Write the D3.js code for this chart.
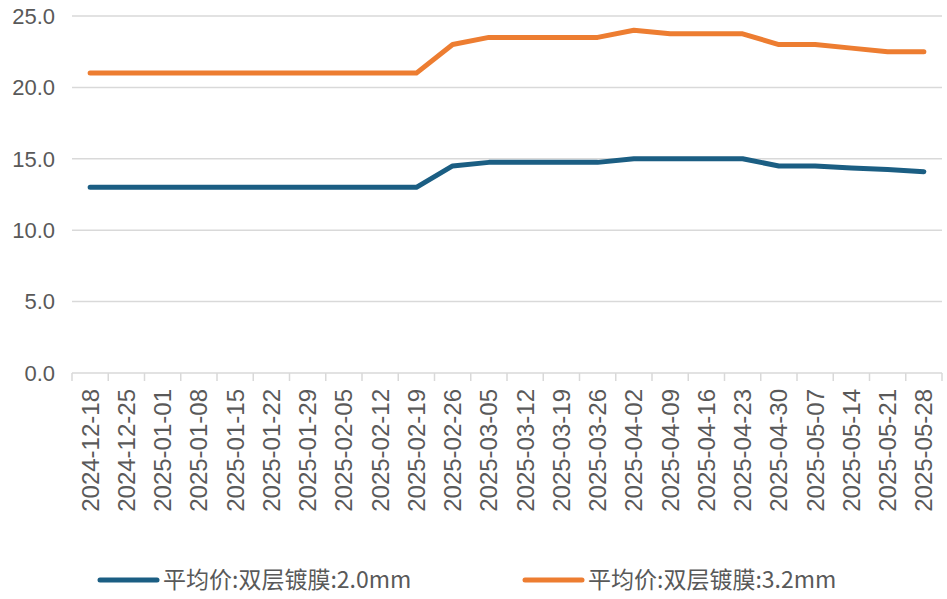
<!DOCTYPE html>
<html lang="zh">
<head>
<meta charset="utf-8">
<title>平均价</title>
<script src="https://cdn.jsdelivr.net/npm/d3@7"></script>
<style>
  body { margin: 0; background: #fff; }
  svg text { font-family: "Liberation Sans", Arial, sans-serif; fill: #595959; }
  .legend text { font-family: "Noto Sans CJK SC", "Liberation Sans", sans-serif; }
</style>
</head>
<body>
<div id="chart"></div>
<script>
// data
var dates = ["2024-12-18","2024-12-25","2025-01-01","2025-01-08","2025-01-15","2025-01-22",
  "2025-01-29","2025-02-05","2025-02-12","2025-02-19","2025-02-26","2025-03-05","2025-03-12",
  "2025-03-19","2025-03-26","2025-04-02","2025-04-09","2025-04-16","2025-04-23","2025-04-30",
  "2025-05-07","2025-05-14","2025-05-21","2025-05-28"];
var price20 = [13,13,13,13,13,13,13,13,13,13,14.5,14.75,14.75,14.75,14.75,15,15,15,15,14.5,14.5,14.35,14.25,14.1];
var price32 = [21,21,21,21,21,21,21,21,21,21,23,23.5,23.5,23.5,23.5,24,23.75,23.75,23.75,23,23,22.75,22.5,22.5];
var yTicks = [0,5,10,15,20,25];
var seriesNames = ["平均价:双层镀膜:2.0mm","平均价:双层镀膜:3.2mm"];
var colors = ["#1b5e83","#ed7d31"];

var W = 947, H = 599;
var svg = d3.select("#chart").append("svg").attr("width", W).attr("height", H);

var pLeft = 72, pRight = 942, pTop = 16, pBottom = 373;

var x = d3.scaleBand().domain(dates).range([pLeft, pRight]);
var y = d3.scaleLinear().domain([0, 25]).range([pBottom, pTop]);

// grid
svg.append("g").selectAll("line").data(yTicks.filter(function(d){ return d > 0; }))
  .enter().append("line")
  .attr("x1", pLeft).attr("x2", pRight)
  .attr("y1", function(d){ return y(d); }).attr("y2", function(d){ return y(d); })
  .attr("stroke", "#d9d9d9").attr("stroke-width", 1.5);

// y labels
svg.append("g").selectAll("text").data(yTicks).enter().append("text")
  .attr("x", 55).attr("y", function(d){ return y(d); })
  .attr("dy", "0.35em").attr("text-anchor", "end")
  .style("font-size", "22px")
  .text(function(d){ return d.toFixed(1); });

// x axis
var xAxis = svg.append("g");
xAxis.append("line").attr("x1", pLeft).attr("x2", pRight)
  .attr("y1", pBottom).attr("y2", pBottom)
  .attr("stroke", "#d9d9d9").attr("stroke-width", 1.5);
var bounds = dates.map(function(d){ return x(d); }).concat([pRight]);
xAxis.selectAll("line.tick").data(bounds).enter().append("line")
  .attr("class", "tick")
  .attr("x1", function(d){ return d; }).attr("x2", function(d){ return d; })
  .attr("y1", pBottom).attr("y2", pBottom + 8)
  .attr("stroke", "#d9d9d9").attr("stroke-width", 1.5);
xAxis.selectAll("text").data(dates).enter().append("text")
  .attr("transform", function(d){
    return "translate(" + (x(d) + x.bandwidth() / 2) + "," + (pBottom + 16) + ") rotate(-90)";
  })
  .attr("text-anchor", "end").attr("dy", "0.35em")
  .style("font-size", "24px")
  .text(function(d){ return d; });

// lines
var line = d3.line()
  .x(function(d, i){ return x(dates[i]) + x.bandwidth() / 2; })
  .y(function(d){ return y(d); });

[price20, price32].forEach(function(s, i) {
  svg.append("path").datum(s)
    .attr("d", line)
    .attr("fill", "none")
    .attr("stroke", colors[i])
    .attr("stroke-width", 5)
    .attr("stroke-linecap", "round")
    .attr("stroke-linejoin", "round");
});

// legend
var legend = svg.append("g").attr("class", "legend");
var legX = [100, 525];
seriesNames.forEach(function(name, i) {
  var g = legend.append("g").attr("transform", "translate(" + legX[i] + ",580)");
  g.append("line").attr("x1", 0).attr("x2", 57).attr("y1", 0).attr("y2", 0)
    .attr("stroke", colors[i]).attr("stroke-width", 5).attr("stroke-linecap", "round");
  g.append("text").attr("x", 63).attr("dy", "0.35em")
    .style("font-size", "23px")
    .text(name);
});
</script>
</body>
</html>
